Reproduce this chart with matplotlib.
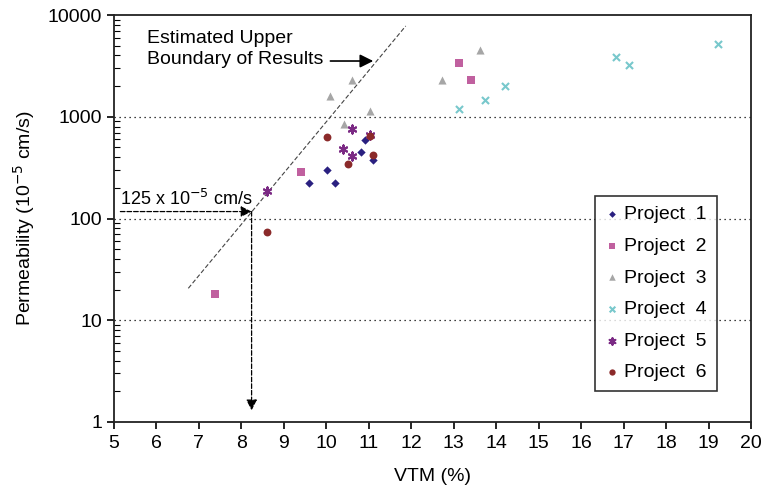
import matplotlib
matplotlib.use("Agg")
import matplotlib.pyplot as plt
from matplotlib.ticker import FixedLocator, FixedFormatter, LogLocator, NullFormatter

plt.rcParams['font.family'] = ['Liberation Sans', 'DejaVu Sans']

# data
p1_x = [9.60, 10.01, 10.20, 10.82, 10.91, 11.11]
p1_y = [223, 298, 223, 453, 595, 373]
p2_x = [7.39, 9.40, 13.12, 13.41]
p2_y = [18, 285, 3350, 2280]
p3_x = [10.61, 10.09, 11.02, 10.41, 13.62, 12.72]
p3_y = [2297, 1610, 1140, 855, 4530, 2297]
p4_x = [13.12, 13.73, 14.21, 16.82, 17.13, 19.23]
p4_y = [1200, 1462, 1992, 3840, 3250, 5150]
p5_x = [8.60, 10.61, 10.40, 10.61, 11.02]
p5_y = [185, 763, 482, 408, 666]
p6_x = [10.01, 11.02, 11.11, 10.51, 8.61]
p6_y = [632, 650, 421, 346, 74]

boundary_x = [6.75, 11.87]
boundary_y = [20.6, 7800]

read_x = 8.24
read_y = 117

x_ticks = list(range(5, 21))
y_ticks = [1, 10, 100, 1000, 10000]
y_labels = ['1', '10', '100', '1000', '10000']

fig = plt.figure(figsize=(7.61, 4.87), dpi=100)
ax = fig.add_axes([114 / 761, 1 - 422 / 487, (751 - 114) / 761, (422 - 15) / 487])

ax.set_xlim(5, 20)
ax.set_yscale('log')
ax.set_ylim(1, 10000)

# dotted grid at decades
for g in [10, 100, 1000]:
    ax.axhline(g, color='black', ls=(0, (1, 3)), lw=0.9, zorder=1)

series = [
    (p1_x, p1_y, 'D', '#2a2080', 18, 'Project  1'),
    (p2_x, p2_y, 's', '#c0609f', 30, 'Project  2'),
    (p3_x, p3_y, '^', '#a6a6a6', 34, 'Project  3'),
    (p4_x, p4_y, 'x', '#78c8cc', 26, 'Project  4'),
    (p5_x, p5_y, (6, 2, 0), '#7b2a84', 34, 'Project  5'),
    (p6_x, p6_y, 'o', '#8b2a2a', 32, 'Project  6'),
]
for xs, ys, m, c, s, lab in series:
    lw = 1.5 if m in ('x',) or isinstance(m, tuple) else 0
    ax.scatter(xs, ys, marker=m, color=c, s=s, linewidths=lw, label=lab, zorder=3)

# estimated upper boundary
ax.plot(boundary_x, boundary_y, color='#444444', ls=(0, (4, 2)), lw=0.8, zorder=2)

ax.text(5.78, 4634, 'Estimated Upper\nBoundary of Results', fontsize=14,
        va='center', ha='left', linespacing=1.25)
ax.annotate('', xy=(11.17, 3530), xytext=(10.03, 3530),
            arrowprops=dict(arrowstyle='-|>', color='black', lw=1.2, mutation_scale=20))

# reading arrows
ax.annotate('', xy=(read_x, read_y), xytext=(5.15, read_y),
            arrowprops=dict(arrowstyle='-|>', color='black', lw=0.9, ls='--', mutation_scale=16,
                            shrinkA=0, shrinkB=0))
ax.annotate('', xy=(read_x, 1.3), xytext=(read_x, read_y),
            arrowprops=dict(arrowstyle='-|>', color='black', lw=0.9, ls='--', mutation_scale=16,
                            shrinkA=0, shrinkB=0))
ax.text(5.14, 136, '125 x 10$^{-5}$ cm/s', fontsize=13, va='baseline', ha='left')

ax.xaxis.set_major_locator(FixedLocator(x_ticks))
ax.yaxis.set_major_locator(FixedLocator(y_ticks))
ax.yaxis.set_major_formatter(FixedFormatter(y_labels))
ax.yaxis.set_minor_locator(LogLocator(base=10, subs=range(2, 10)))
ax.yaxis.set_minor_formatter(NullFormatter())
ax.tick_params(axis='both', which='major', direction='out', length=5, width=1.2, labelsize=14, colors='black')
ax.tick_params(axis='y', which='minor', direction='in', length=4, width=0.8)
ax.tick_params(axis='x', which='major', pad=4)

for sp in ax.spines.values():
    sp.set_color('#222222')
    sp.set_linewidth(1.3)

ax.set_xlabel('VTM (%)', fontsize=14, labelpad=12)
ax.set_ylabel('Permeability (10$^{-5}$ cm/s)', fontsize=14, labelpad=8)

leg = ax.legend(loc='upper left', bbox_to_anchor=((595 - 114) / 637, 1 - (196 - 15) / 407),
                frameon=True, fancybox=False, edgecolor='black', fontsize=14,
                handletextpad=0.2, handlelength=0.8, labelspacing=0.72, borderpad=0.5,
                borderaxespad=0, markerscale=0.8)
leg.get_frame().set_linewidth(1.2)

fig.savefig('out.png', dpi=100)
